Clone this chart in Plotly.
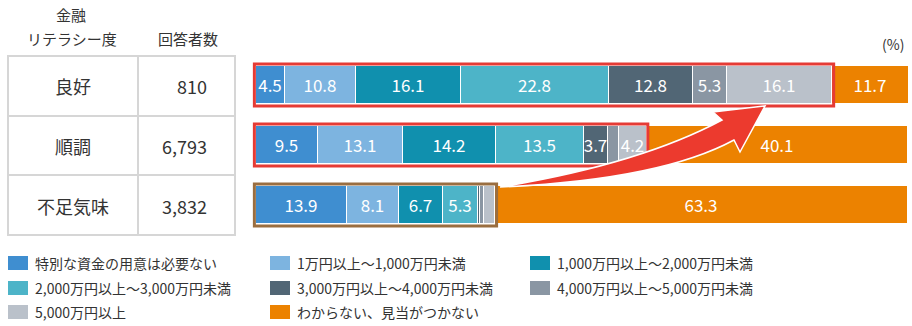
import plotly.graph_objects as go

# Financial-literacy groups, respondent counts and answer shares (%)
categories = ["良好", "順調", "不足気味"]
respondents = ["810", "6,793", "3,832"]

series_names = [
    "特別な資金の用意は必要ない",
    "1万円以上～1,000万円未満",
    "1,000万円以上～2,000万円未満",
    "2,000万円以上～3,000万円未満",
    "3,000万円以上～4,000万円未満",
    "4,000万円以上～5,000万円未満",
    "5,000万円以上",
    "わからない、見当がつかない",
]
s_none = [4.5, 9.5, 13.9]
s_under_1000 = [10.8, 13.1, 8.1]
s_1000_2000 = [16.1, 14.2, 6.7]
s_2000_3000 = [22.8, 13.5, 5.3]
s_3000_4000 = [12.8, 3.7, 0.4]
s_4000_5000 = [5.3, 1.7, 0.5]
s_over_5000 = [16.1, 4.2, 1.8]
s_unknown = [11.7, 40.1, 63.3]
series_values = [s_none, s_under_1000, s_1000_2000, s_2000_3000,
                 s_3000_4000, s_4000_5000, s_over_5000, s_unknown]

colors = ["#3F8ED0", "#7DB4E0", "#1090AE", "#4DB4C8",
          "#516675", "#8A96A3", "#BAC1CA", "#EC8200"]

FONT = "Noto Sans CJK JP"
W, H = 912, 326
X0_PX, X100_PX = 256, 908     # pixel span of 0..100 %
ROW0_PX, ROW_STEP = 85, 60    # pixel centre of first row, row spacing
BAR_W = 0.64

ppu = (X100_PX - X0_PX) / 100.0
x_range = [-X0_PX / ppu, (W - X0_PX) / ppu]
y_range = [(H - ROW0_PX) / ROW_STEP, -ROW0_PX / ROW_STEP]


def px(x):
    return x / W


def py(y):
    return 1 - y / H


rows = list(range(len(categories)))
fig = go.Figure()
for name, vals, col in zip(series_names, series_values, colors):
    fig.add_trace(go.Bar(
        y=rows, x=vals, name=name, orientation="h", width=BAR_W,
        marker=dict(color=col, line=dict(color="white", width=1)),
        text=[f"{v:.1f}" if v >= 2 else "" for v in vals],
        textposition="inside", insidetextanchor="middle", textangle=0,
        textfont=dict(color="white", size=17, family=FONT),
        showlegend=False, hoverinfo="skip",
    ))

shapes = []
annotations = []

# Outline around the segments that state an amount (everything but "unknown")
outline_colors = ["#E53B35", "#E53B35", "#9A6E40"]
for r in rows:
    known = sum(v[r] for v in series_values[:-1])
    shapes.append(dict(
        type="rect", xref="x", yref="y", x0=-0.25, x1=known + 0.2,
        y0=r - BAR_W / 2 - 0.03, y1=r + BAR_W / 2 + 0.03,
        line=dict(color=outline_colors[r], width=3), layer="above"))

# Curved arrow from the lower group toward the top group
pts = {
    "tail": (500, 187), "c1": (640, 164), "ui": (722, 120),
    "ub": (713, 112), "tip": (765, 106), "lb": (740, 152),
    "li": (734, 140), "c2": (660, 180),
}


def P(k):
    x, y = pts[k]
    return f"{px(x):.5f},{py(y):.5f}"


arrow_path = (f"M {P('tail')} Q {P('c1')} {P('ui')} L {P('ub')} L {P('tip')} "
              f"L {P('lb')} L {P('li')} Q {P('c2')} {P('tail')} Z")
shapes.append(dict(type="path", xref="paper", yref="paper", path=arrow_path,
                   fillcolor="#EC3A2E", line=dict(color="white", width=1.5),
                   layer="above"))

# Table on the left
grid = "#D6D6D6"
tx0, tx1, tmid = 8, 235, 138
ty = [56, 116, 175, 235]
shapes.append(dict(type="rect", xref="paper", yref="paper",
                   x0=px(tx0), x1=px(tx1), y0=py(ty[0]), y1=py(ty[-1]),
                   line=dict(color=grid, width=2)))
for y in ty[1:-1]:
    shapes.append(dict(type="line", xref="paper", yref="paper",
                       x0=px(tx0), x1=px(tx1), y0=py(y), y1=py(y),
                       line=dict(color=grid, width=2)))
shapes.append(dict(type="line", xref="paper", yref="paper",
                   x0=px(tmid), x1=px(tmid), y0=py(ty[0]), y1=py(ty[-1]),
                   line=dict(color=grid, width=2)))

txt = "#333333"
header_font = dict(size=15, color=txt, family=FONT)
for text, x, y in [("金融", 71, 15), ("リテラシー度", 72, 39), ("回答者数", 188, 39)]:
    annotations.append(dict(text=text, x=px(x), y=py(y),
                            xref="paper", yref="paper", showarrow=False,
                            xanchor="center", yanchor="middle", font=header_font))

for r, (cat, n) in enumerate(zip(categories, respondents)):
    yc = py(ROW0_PX + r * ROW_STEP + 1)
    annotations.append(dict(text=cat, x=px(73), y=yc, xref="paper", yref="paper",
                            showarrow=False, xanchor="center", yanchor="middle",
                            font=dict(size=18, color=txt, family=FONT)))
    annotations.append(dict(text=n, x=px(209), y=yc, xref="paper", yref="paper",
                            showarrow=False, xanchor="right", yanchor="middle",
                            font=dict(size=18, color=txt, family=FONT)))

annotations.append(dict(text="(%)", x=px(906), y=py(44), xref="paper", yref="paper",
                        showarrow=False, xanchor="right", yanchor="middle",
                        font=dict(size=14, color=txt, family=FONT)))

# Legend drawn as three columns
col_x = [8, 270, 530]
row_y = [263, 288, 312]
for i, (name, col) in enumerate(zip(series_names, colors)):
    cx = col_x[i % 3]
    cy = row_y[i // 3]
    shapes.append(dict(type="rect", xref="paper", yref="paper",
                       x0=px(cx), x1=px(cx + 20), y0=py(cy - 7), y1=py(cy + 7),
                       fillcolor=col, line=dict(width=0)))
    annotations.append(dict(text=name, x=px(cx + 25), y=py(cy), xref="paper",
                            yref="paper", showarrow=False, xanchor="left",
                            yanchor="middle",
                            font=dict(size=14, color=txt, family=FONT)))

fig.update_layout(
    width=W, height=H, barmode="stack", bargap=0,
    margin=dict(l=0, r=0, t=0, b=0),
    paper_bgcolor="white", plot_bgcolor="white",
    xaxis=dict(range=x_range, visible=False, fixedrange=True),
    yaxis=dict(range=y_range, visible=False, fixedrange=True),
    uniformtext=dict(minsize=17, mode="show"),
    shapes=shapes, annotations=annotations,
    font=dict(family=FONT),
)

fig.write_html("out.html", config={"displayModeBar": False})
